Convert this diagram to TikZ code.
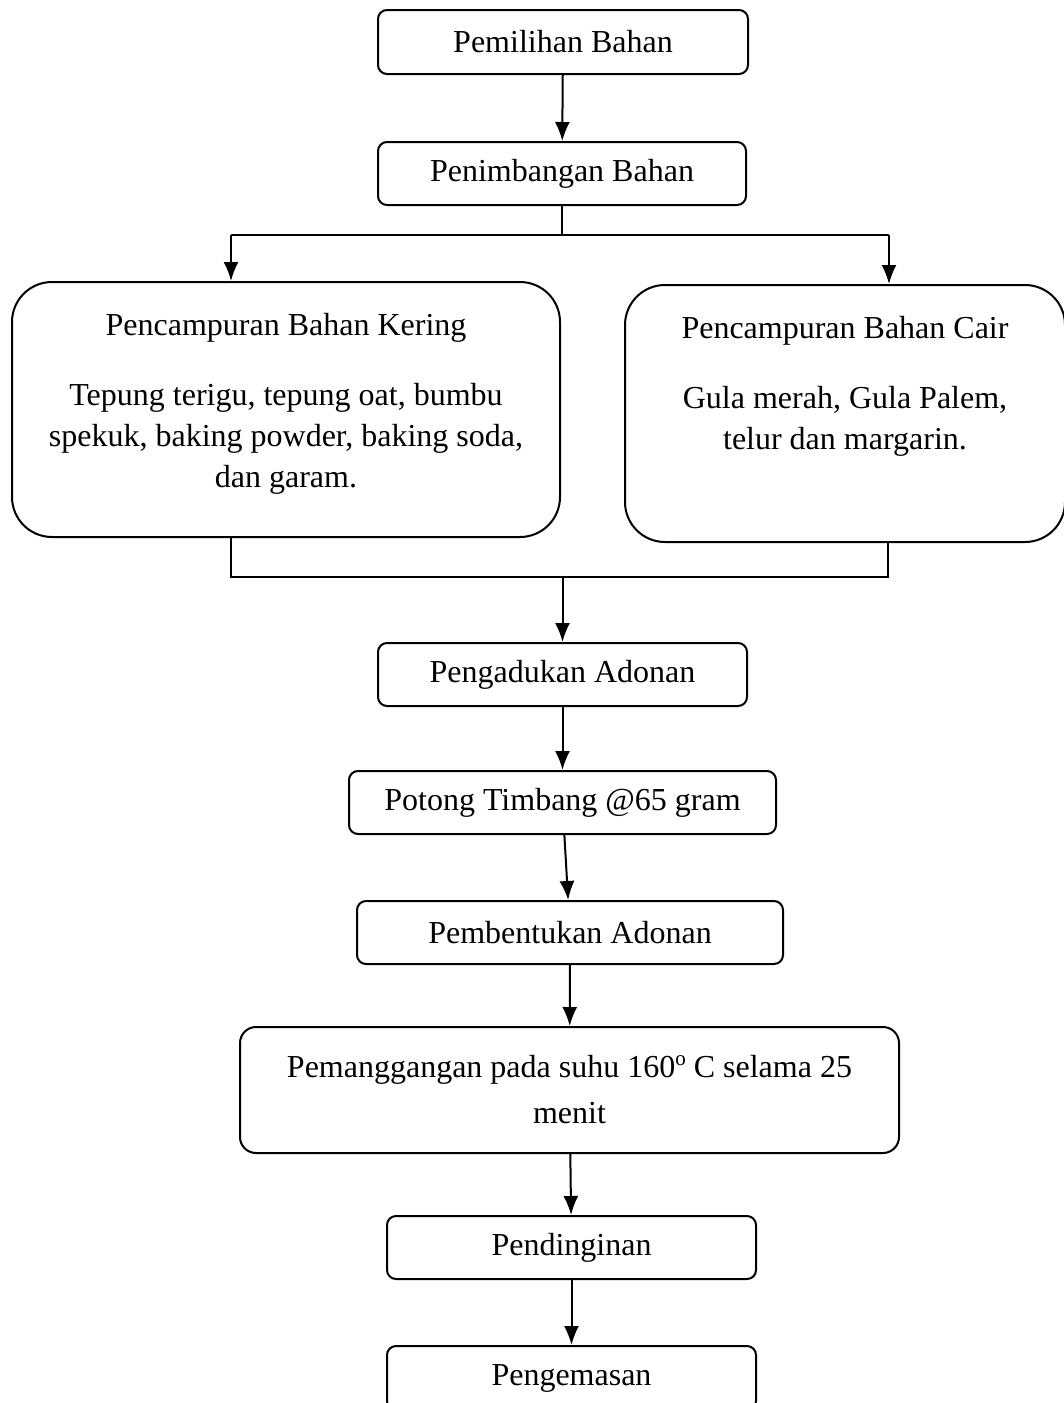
\documentclass[tikz,border=0pt]{standalone}
\usepackage{fontspec}
\setmainfont{Liberation Serif}
\usetikzlibrary{arrows.meta, positioning}
\tikzset{
  stepbox/.style = {draw=black, line width=2pt, rounded corners=9pt,
    inner sep=0pt, align=center, font=\fontsize{32}{41}\selectfont},
  bigbox/.style = {stepbox, rounded corners=40pt},
  midbox/.style = {stepbox, rounded corners=16pt},
  boxtxt/.style = {inner sep=0pt, align=center, font=\fontsize{32}{41}\selectfont},
  arr/.style = {line width=2pt, -{Latex[length=19pt,width=15pt]}},
  plain/.style = {line width=2pt},
}
\newcommand{\dego}{\raisebox{12pt}{\fontsize{21}{21}\selectfont o}}

\begin{document}
\begin{tikzpicture}[x=1pt, y=-1pt]
\useasboundingbox (0,0) rectangle (1064,1403);
\clip (0,0) rectangle (1064,1403);

\node [stepbox, minimum width=370pt, minimum height=64pt] (pilih) at (563,42) {Pemilihan Bahan};
\node [stepbox, minimum width=368pt, minimum height=63pt] (timbang) at (562,173.5) {Penimbangan Bahan};

\node [bigbox, minimum width=548pt, minimum height=255pt] (kering) at (286,409.5) {};
\node [boxtxt, below=32pt of kering.north] (keringtxt) {Pencampuran Bahan Kering\\[29pt]
  Tepung terigu, tepung oat, bumbu\\ spekuk, baking powder, baking soda,\\ dan garam.};

\node [bigbox, minimum width=440pt, minimum height=257pt] (cair) at (845,413.5) {};
\node [boxtxt, below=32pt of cair.north] (cairtxt) {Pencampuran Bahan Cair\\[29pt]
  Gula merah, Gula Palem,\\ telur dan margarin.};

\node [stepbox, minimum width=369pt, minimum height=63pt] (aduk) at (562.5,674.5) {Pengadukan Adonan};
\node [stepbox, minimum width=427pt, minimum height=63pt] (potong) at (562.5,802.5) {Potong Timbang @65 gram};
\node [stepbox, minimum width=426pt, minimum height=63pt] (bentuk) at (570,932.5) {Pembentukan Adonan};
\node [midbox, minimum width=659pt, minimum height=126pt] (panggang) at (569.5,1090)
  {Pemanggangan pada suhu 160\dego{} C selama 25\\[5pt] menit};
\node [stepbox, minimum width=369pt, minimum height=63pt] (dingin) at (571.5,1247.5) {Pendinginan};
\node [stepbox, minimum width=369pt, minimum height=64pt] (kemas) at (571.5,1378) {Pengemasan};

% split
\coordinate (kl) at (231,235);
\coordinate (cr) at (889,235);
\draw [plain] (timbang.south) -- (timbang.south |- kl);
\draw [plain] (kl) -- (cr);
\draw [arr] (kl) -- (kl |- kering.north);
\draw [arr] (cr) -- (cr |- cair.north);

% join
\coordinate (ml) at (231,577);
\coordinate (mr) at (888,577);
\coordinate (join) at (562.5,577);
\draw [plain] (ml |- kering.south) -- (ml) -- (mr) -- (mr |- cair.south);
\draw [arr] (join) -- (aduk);

\draw [arr] (pilih) -- (timbang);
\draw [arr] (aduk) -- (potong);
\draw [arr] (potong) -- (bentuk);
\draw [arr] (bentuk) -- (panggang);
\draw [arr] (panggang) -- (dingin);
\draw [arr] (dingin) -- (kemas);
\end{tikzpicture}
\end{document}
